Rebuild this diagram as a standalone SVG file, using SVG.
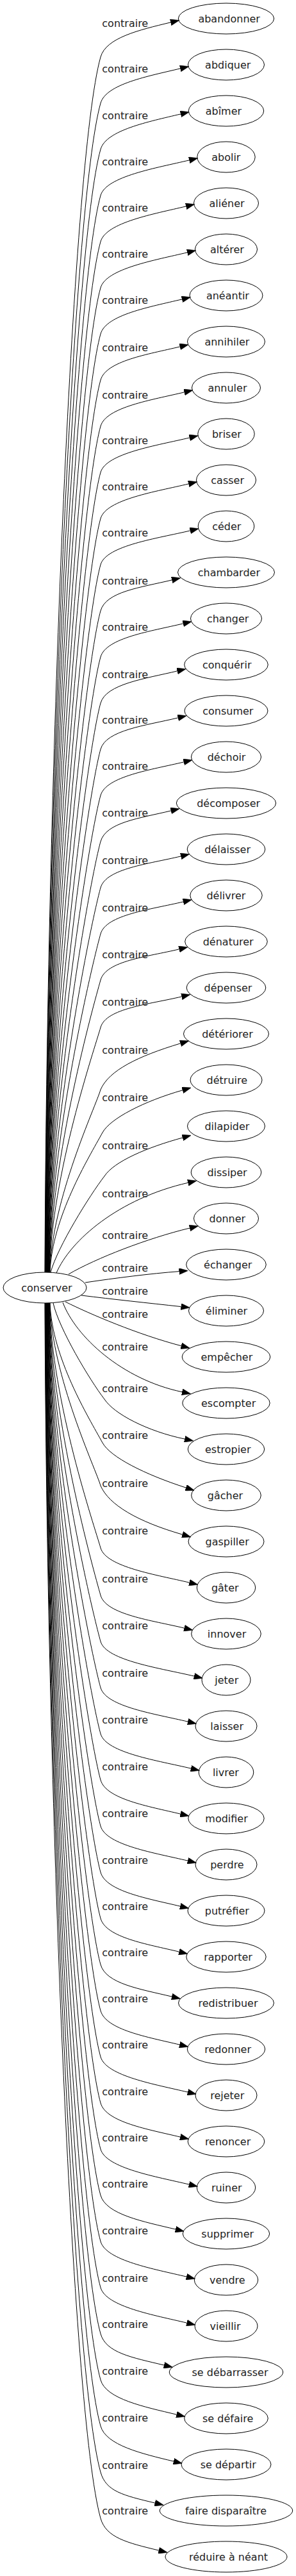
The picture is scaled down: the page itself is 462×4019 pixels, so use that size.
<svg xmlns="http://www.w3.org/2000/svg" width="462" height="4019" viewBox="0 0 462 4019">
<style>
.nd ellipse{fill:none;stroke:#000;stroke-width:1}
.nd text{font-family:"DejaVu Sans",sans-serif;font-size:16px;fill:#222}
#edges path{fill:none;stroke:#000;stroke-width:1;marker-end:url(#arr)}
#edge-labels text{font-family:"DejaVu Sans",sans-serif;font-size:16px;fill:#222}
</style>
<defs>
<marker id="arr" markerUnits="userSpaceOnUse" markerWidth="14" markerHeight="10" viewBox="0 0 13 9.4" refX="0" refY="4.7" orient="auto"><path d="M0,0 L13,4.7 L0,9.4 z" fill="#000" stroke="#000" stroke-width="0.5"/></marker>
</defs>
<rect width="462" height="4019" fill="#fff"/>
<g id="edges">
<path d="M70,1985 C73,1226.6 111.9,250.2 157,89 C165.4,59 216.4,46.9 266.4,34.9"/>
<path d="M70.3,1985 C73.3,1255.4 113.6,316 157,161 C165.4,131 231.4,118.9 281.4,106.9"/>
<path d="M70.7,1985 C73.7,1284.2 115.3,381.9 157,233 C165.4,203 232,189.9 282,177.9"/>
<path d="M71,1985 C74,1313 117,447.8 157,305 C165.4,275 245.4,261.9 295.4,249.9"/>
<path d="M71.4,1985 C74.4,1341.8 118.7,513.7 157,377 C165.4,347 240.3,333.9 290.3,321.9"/>
<path d="M71.7,1985 C74.7,1370.6 120.4,579.6 157,449 C165.4,419 242.3,405.9 292.3,393.9"/>
<path d="M72.1,1985 C75.1,1399.4 122.2,645.4 157,521 C165.4,491 234.1,478.9 284.1,466.9"/>
<path d="M72.4,1985 C75.4,1428.2 123.9,711.3 157,593 C165.4,563 230.8,552.9 280.8,540.9"/>
<path d="M72.8,1985 C75.8,1457 125.6,777.2 157,665 C165.4,635 237.7,623.9 287.7,611.9"/>
<path d="M73.1,1985 C76.1,1485.8 127.3,843.1 157,737 C165.4,707 245.9,694.9 295.9,682.9"/>
<path d="M73.5,1985 C76.5,1514.6 129,909 157,809 C165.4,779 244.4,766.9 294.4,754.9"/>
<path d="M73.8,1985 C76.8,1543.4 130.7,974.8 157,881 C165.4,851 246.8,839.9 296.8,827.9"/>
<path d="M74.2,1985 C77.2,1572.2 132.4,1040.7 157,953 C165.4,923 218.4,916.9 268.4,904.9"/>
<path d="M74.5,1985 C77.5,1601 134.2,1106.6 157,1025 C165.4,995 235.8,984.9 285.8,972.9"/>
<path d="M74.9,1985 C77.9,1629.8 135.9,1172.5 157,1097 C165.4,1067 226.7,1058.9 276.7,1046.9"/>
<path d="M75.2,1985 C78.2,1658.6 137.6,1238.4 157,1169 C165.4,1139 227.8,1131.9 277.8,1119.9"/>
<path d="M75.6,1985 C78.6,1687.4 139.3,1304.2 157,1241 C165.4,1211 236.8,1200.9 286.8,1188.9"/>
<path d="M75.9,1985 C78.9,1716.2 141,1370.1 157,1313 C165.4,1283 216.9,1276.9 266.9,1264.9"/>
<path d="M76.3,1985 C79.3,1745 142.7,1436 157,1385 C165.4,1355 232.3,1347.9 282.3,1335.9"/>
<path d="M76.6,1985 C79.6,1773.8 144.4,1501.9 157,1457 C165.4,1427 236,1418.9 286,1406.9"/>
<path d="M77,1985 C80,1802.6 146.1,1567.8 157,1529 C165.4,1499 229.6,1492.9 279.6,1480.9"/>
<path d="M77.3,1985 C80.3,1832.2 147.9,1635.5 157,1603 C165.4,1573 233.5,1566.9 283.5,1554.9"/>
<path d="M77.7,1985 C80.7,1871 150,1725 157,1700 C170,1670 215,1648 281.6,1627.9"/>
<path d="M78,1985 C81,1900 138,1807 160,1767 C172,1745 225,1718 284.9,1700.9"/>
<path d="M79,1985 C90,1945 140,1865 163,1835 C178,1812 230,1790 285,1775"/>
<path d="M88,1986 C110,1935 185,1870 293.4,1845.3"/>
<path d="M107,1988 C150,1963 230,1932 296.1,1916"/>
<path d="M133,2001 C180,1994 235,1987 279.6,1983.6"/>
<path d="M127,2021 C175,2027 232,2033 282.6,2038.6"/>
<path d="M102,2031 C140,2050 215,2082 282.9,2099.8"/>
<path d="M98,2032 C118,2085 190,2152 284.2,2171.7"/>
<path d="M83,2033 C92,2073 140,2153 163,2183 C178,2206 230,2233 288.3,2245.1"/>
<path d="M78,2033 C81,2118 138,2211 160,2251 C172,2273 225,2300 290.2,2321.1"/>
<path d="M77.7,2033 C80.7,2147 150,2293 157,2318 C170,2348 215,2374 284.6,2394.1"/>
<path d="M77.3,2033 C80.3,2185.8 147.9,2382.5 157,2415 C165.4,2445 245.5,2457.1 295.5,2469.1"/>
<path d="M77,2033 C80,2215.4 146.1,2450.2 157,2489 C165.4,2519 237.6,2528.1 287.6,2540.1"/>
<path d="M76.6,2033 C79.6,2244.2 144.4,2516.1 157,2561 C165.4,2591 253,2603.1 303,2615.1"/>
<path d="M76.3,2033 C79.3,2273 142.7,2582 157,2633 C165.4,2663 243.2,2674.1 293.2,2686.1"/>
<path d="M75.9,2033 C78.9,2301.8 141,2647.9 157,2705 C165.4,2735 248.1,2747.1 298.1,2759.1"/>
<path d="M75.6,2033 C78.6,2330.6 139.3,2713.8 157,2777 C165.4,2807 231.7,2818.1 281.7,2830.1"/>
<path d="M75.2,2033 C78.2,2359.4 137.6,2779.6 157,2849 C165.4,2879 243.1,2891.1 293.1,2903.1"/>
<path d="M74.9,2033 C77.9,2388.2 135.9,2845.5 157,2921 C165.4,2951 231.3,2962.1 281.3,2974.1"/>
<path d="M74.5,2033 C77.5,2417 134.2,2911.4 157,2993 C165.4,3023 229.5,3033.1 279.5,3045.1"/>
<path d="M74.2,2033 C77.2,2445.8 132.4,2977.3 157,3065 C165.4,3095 218.2,3103.1 268.2,3115.1"/>
<path d="M73.8,2033 C76.8,2474.6 130.7,3043.2 157,3137 C165.4,3167 230.4,3178.1 280.4,3190.1"/>
<path d="M73.5,2033 C76.5,2503.4 129,3109 157,3209 C165.4,3239 243,3252.1 293,3264.1"/>
<path d="M73.1,2033 C76.1,2532.2 127.3,3174.9 157,3281 C165.4,3311 231.4,3322.1 281.4,3334.1"/>
<path d="M72.8,2033 C75.8,2561 125.6,3240.8 157,3353 C165.4,3383 245.1,3396.1 295.1,3408.1"/>
<path d="M72.4,2033 C75.4,2589.8 123.9,3306.7 157,3425 C165.4,3455 224,3466.1 274,3478.1"/>
<path d="M72.1,2033 C75.1,2618.6 122.2,3372.6 157,3497 C165.4,3527 241.1,3540.1 291.1,3552.1"/>
<path d="M71.7,2033 C74.7,2647.4 120.4,3438.4 157,3569 C165.4,3599 241.5,3612.1 291.5,3624.1"/>
<path d="M71.4,2033 C74.4,2676.2 118.7,3504.3 157,3641 C165.4,3671 206.1,3678.1 256.1,3690.1"/>
<path d="M71,2033 C74,2705 117,3570.2 157,3713 C165.4,3743 225.5,3755.1 275.5,3767.1"/>
<path d="M70.7,2033 C73.7,2733.8 115.3,3636.1 157,3785 C165.4,3815 221,3828.1 271,3840.1"/>
<path d="M70.3,2033 C73.3,2762.6 113.6,3702 157,3857 C165.4,3887 191.9,3893.1 241.9,3905.1"/>
<path d="M70,2033 C73,2791.4 111.9,3767.8 157,3929 C165.4,3959 197.9,3967.1 247.9,3979.1"/>
</g>
<g id="edge-labels">
<text x="159.3" y="42">contraire</text>
<text x="159.3" y="113.3">contraire</text>
<text x="159.3" y="186">contraire</text>
<text x="159.3" y="257.7">contraire</text>
<text x="159.3" y="330">contraire</text>
<text x="159.3" y="402">contraire</text>
<text x="159.3" y="474.3">contraire</text>
<text x="159.3" y="548.3">contraire</text>
<text x="159.3" y="621.7">contraire</text>
<text x="159.3" y="693.3">contraire</text>
<text x="159.3" y="765">contraire</text>
<text x="159.3" y="837.3">contraire</text>
<text x="159.3" y="912.3">contraire</text>
<text x="159.3" y="984.3">contraire</text>
<text x="159.3" y="1057.7">contraire</text>
<text x="159.3" y="1129">contraire</text>
<text x="159.3" y="1201">contraire</text>
<text x="159.3" y="1274.3">contraire</text>
<text x="159.3" y="1347.7">contraire</text>
<text x="159.3" y="1421.7">contraire</text>
<text x="159.3" y="1495">contraire</text>
<text x="159.3" y="1569.3">contraire</text>
<text x="159.3" y="1644">contraire</text>
<text x="159.3" y="1718.3">contraire</text>
<text x="159.3" y="1793.3">contraire</text>
<text x="159.3" y="1867.7">contraire</text>
<text x="159.3" y="1933.3">contraire</text>
<text x="159.3" y="1984">contraire</text>
<text x="159.3" y="2020">contraire</text>
<text x="159.3" y="2055.7">contraire</text>
<text x="159.3" y="2106.7">contraire</text>
<text x="159.3" y="2171.7">contraire</text>
<text x="159.3" y="2245">contraire</text>
<text x="159.3" y="2320">contraire</text>
<text x="159.3" y="2394">contraire</text>
<text x="159.3" y="2469">contraire</text>
<text x="159.3" y="2542">contraire</text>
<text x="159.3" y="2616">contraire</text>
<text x="159.3" y="2689">contraire</text>
<text x="159.3" y="2762.3">contraire</text>
<text x="159.3" y="2835">contraire</text>
<text x="159.3" y="2907.7">contraire</text>
<text x="159.3" y="2980">contraire</text>
<text x="159.3" y="3051.7">contraire</text>
<text x="159.3" y="3124.3">contraire</text>
<text x="159.3" y="3195.7">contraire</text>
<text x="159.3" y="3269.3">contraire</text>
<text x="159.3" y="3341">contraire</text>
<text x="159.3" y="3413.3">contraire</text>
<text x="159.3" y="3485.7">contraire</text>
<text x="159.3" y="3560">contraire</text>
<text x="159.3" y="3631.7">contraire</text>
<text x="159.3" y="3705">contraire</text>
<text x="159.3" y="3778.3">contraire</text>
<text x="159.3" y="3851.7">contraire</text>
<text x="159.3" y="3922.7">contraire</text>
</g>
<g id="conserver" class="nd"><ellipse cx="70" cy="2009" rx="65" ry="24"/><text x="33.2" y="2015">conserver</text></g>
<g id="n00" class="nd"><ellipse cx="353" cy="29" rx="74.7" ry="24"/><text x="309.4" y="35">abandonner</text></g>
<g id="n01" class="nd"><ellipse cx="353" cy="101" rx="59.5" ry="24"/><text x="320.1" y="107">abdiquer</text></g>
<g id="n02" class="nd"><ellipse cx="353" cy="173" rx="58.7" ry="24"/><text x="320.7" y="179">abîmer</text></g>
<g id="n03" class="nd"><ellipse cx="353" cy="245" rx="45.2" ry="24"/><text x="330.2" y="251">abolir</text></g>
<g id="n04" class="nd"><ellipse cx="353" cy="317" rx="50.5" ry="24"/><text x="326.5" y="323">aliéner</text></g>
<g id="n05" class="nd"><ellipse cx="353" cy="389" rx="48.5" ry="24"/><text x="327.9" y="395">altérer</text></g>
<g id="n06" class="nd"><ellipse cx="353" cy="461" rx="57" ry="24"/><text x="321.9" y="467">anéantir</text></g>
<g id="n07" class="nd"><ellipse cx="353" cy="533" rx="60.5" ry="24"/><text x="319.4" y="539">annihiler</text></g>
<g id="n08" class="nd"><ellipse cx="353" cy="605" rx="53.5" ry="24"/><text x="324.4" y="611">annuler</text></g>
<g id="n09" class="nd"><ellipse cx="353" cy="677" rx="44.2" ry="24"/><text x="330.9" y="683">briser</text></g>
<g id="n10" class="nd"><ellipse cx="353" cy="749" rx="46.5" ry="24"/><text x="329.3" y="755">casser</text></g>
<g id="n11" class="nd"><ellipse cx="353" cy="821" rx="43.8" ry="24"/><text x="331.2" y="827">céder</text></g>
<g id="n12" class="nd"><ellipse cx="353" cy="893" rx="75.5" ry="24"/><text x="308.8" y="899">chambarder</text></g>
<g id="n13" class="nd"><ellipse cx="353" cy="965" rx="55.5" ry="24"/><text x="322.9" y="971">changer</text></g>
<g id="n14" class="nd"><ellipse cx="353" cy="1037" rx="65.3" ry="24"/><text x="316" y="1043">conquérir</text></g>
<g id="n15" class="nd"><ellipse cx="353" cy="1109" rx="65" ry="24"/><text x="316.2" y="1115">consumer</text></g>
<g id="n16" class="nd"><ellipse cx="353" cy="1181" rx="54.5" ry="24"/><text x="323.7" y="1187">déchoir</text></g>
<g id="n17" class="nd"><ellipse cx="353" cy="1253" rx="77.7" ry="24"/><text x="307.2" y="1259">décomposer</text></g>
<g id="n18" class="nd"><ellipse cx="353" cy="1325" rx="60.8" ry="24"/><text x="319.2" y="1331">délaisser</text></g>
<g id="n19" class="nd"><ellipse cx="353" cy="1397" rx="56.2" ry="24"/><text x="322.4" y="1403">délivrer</text></g>
<g id="n20" class="nd"><ellipse cx="353" cy="1469" rx="64.3" ry="24"/><text x="316.7" y="1475">dénaturer</text></g>
<g id="n21" class="nd"><ellipse cx="353" cy="1541" rx="61.8" ry="24"/><text x="318.5" y="1547">dépenser</text></g>
<g id="n22" class="nd"><ellipse cx="353" cy="1613" rx="66.5" ry="24"/><text x="315.2" y="1619">détériorer</text></g>
<g id="n23" class="nd"><ellipse cx="353" cy="1685" rx="56" ry="24"/><text x="322.6" y="1691">détruire</text></g>
<g id="n24" class="nd"><ellipse cx="353" cy="1757" rx="60.5" ry="24"/><text x="319.4" y="1763">dilapider</text></g>
<g id="n25" class="nd"><ellipse cx="353" cy="1829" rx="54.8" ry="24"/><text x="323.4" y="1835">dissiper</text></g>
<g id="n26" class="nd"><ellipse cx="353" cy="1901" rx="50.5" ry="24"/><text x="326.5" y="1907">donner</text></g>
<g id="n27" class="nd"><ellipse cx="353" cy="1973" rx="62.3" ry="24"/><text x="318.1" y="1979">échanger</text></g>
<g id="n28" class="nd"><ellipse cx="353" cy="2045" rx="58.5" ry="24"/><text x="320.8" y="2051">éliminer</text></g>
<g id="n29" class="nd"><ellipse cx="353" cy="2117" rx="68.8" ry="24"/><text x="313.5" y="2123">empêcher</text></g>
<g id="n30" class="nd"><ellipse cx="353" cy="2189" rx="68.2" ry="24"/><text x="314" y="2195">escompter</text></g>
<g id="n31" class="nd"><ellipse cx="353" cy="2261" rx="59.7" ry="24"/><text x="320" y="2267">estropier</text></g>
<g id="n32" class="nd"><ellipse cx="353" cy="2333" rx="54.3" ry="24"/><text x="323.8" y="2339">gâcher</text></g>
<g id="n33" class="nd"><ellipse cx="353" cy="2405" rx="59" ry="24"/><text x="320.5" y="2411">gaspiller</text></g>
<g id="n34" class="nd"><ellipse cx="353" cy="2477" rx="45.7" ry="24"/><text x="329.9" y="2483">gâter</text></g>
<g id="n35" class="nd"><ellipse cx="353" cy="2549" rx="54.3" ry="24"/><text x="323.8" y="2555">innover</text></g>
<g id="n36" class="nd"><ellipse cx="353" cy="2621" rx="38" ry="24"/><text x="335.3" y="2627">jeter</text></g>
<g id="n37" class="nd"><ellipse cx="353" cy="2693" rx="48" ry="24"/><text x="328.2" y="2699">laisser</text></g>
<g id="n38" class="nd"><ellipse cx="353" cy="2765" rx="42.8" ry="24"/><text x="331.9" y="2771">livrer</text></g>
<g id="n39" class="nd"><ellipse cx="353" cy="2837" rx="59.2" ry="24"/><text x="320.3" y="2843">modifier</text></g>
<g id="n40" class="nd"><ellipse cx="353" cy="2909" rx="48" ry="24"/><text x="328.2" y="2915">perdre</text></g>
<g id="n41" class="nd"><ellipse cx="353" cy="2981" rx="60" ry="24"/><text x="319.8" y="2987">putréfier</text></g>
<g id="n42" class="nd"><ellipse cx="353" cy="3053" rx="62.2" ry="24"/><text x="318.2" y="3059">rapporter</text></g>
<g id="n43" class="nd"><ellipse cx="353" cy="3125" rx="74.5" ry="24"/><text x="309.5" y="3131">redistribuer</text></g>
<g id="n44" class="nd"><ellipse cx="353" cy="3197" rx="60.7" ry="24"/><text x="319.3" y="3203">redonner</text></g>
<g id="n45" class="nd"><ellipse cx="353" cy="3269" rx="48" ry="24"/><text x="328.2" y="3275">rejeter</text></g>
<g id="n46" class="nd"><ellipse cx="353" cy="3341" rx="59.8" ry="24"/><text x="319.9" y="3347">renoncer</text></g>
<g id="n47" class="nd"><ellipse cx="353" cy="3413" rx="45.7" ry="24"/><text x="329.9" y="3419">ruiner</text></g>
<g id="n48" class="nd"><ellipse cx="353" cy="3485" rx="67.7" ry="24"/><text x="314.3" y="3491">supprimer</text></g>
<g id="n49" class="nd"><ellipse cx="353" cy="3557" rx="49.7" ry="24"/><text x="327" y="3563">vendre</text></g>
<g id="n50" class="nd"><ellipse cx="353" cy="3629" rx="49" ry="24"/><text x="327.5" y="3635">vieillir</text></g>
<g id="n51" class="nd"><ellipse cx="353" cy="3701" rx="88.7" ry="24"/><text x="299.5" y="3707">se débarrasser</text></g>
<g id="n52" class="nd"><ellipse cx="353" cy="3773" rx="65.3" ry="24"/><text x="316" y="3779">se défaire</text></g>
<g id="n53" class="nd"><ellipse cx="353" cy="3845" rx="70" ry="24"/><text x="312.7" y="3851">se départir</text></g>
<g id="n54" class="nd"><ellipse cx="353" cy="3917" rx="103.7" ry="24"/><text x="288.9" y="3923">faire disparaître</text></g>
<g id="n55" class="nd"><ellipse cx="353" cy="3989" rx="95" ry="24"/><text x="295" y="3995">réduire à néant</text></g>
</svg>
